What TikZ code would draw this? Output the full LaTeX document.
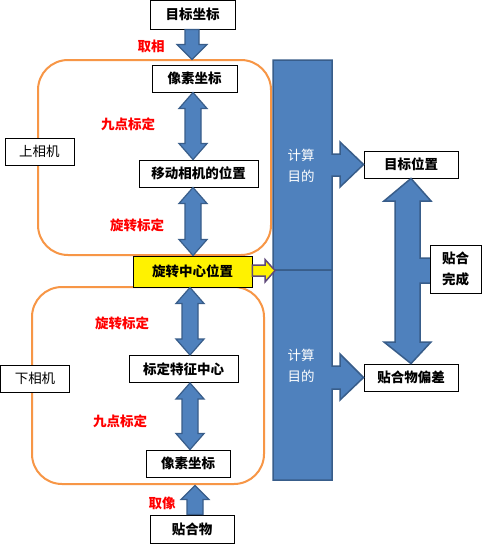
\documentclass[tikz,border=0pt]{standalone}
\usepackage{fontspec}
\newfontfamily\cjk{Noto Sans CJK SC}
\usetikzlibrary{calc}
\definecolor{ablue}{HTML}{4F81BD}
\definecolor{dblue}{HTML}{385D8A}
\definecolor{oframe}{HTML}{F79646}
\definecolor{purp}{HTML}{5F497A}
\tikzset{
 box/.style={draw=black, line width=0.9pt, fill=white, inner sep=0pt, font=\cjk\bfseries\fontsize{13.5}{16}\selectfont},
 cam/.style={box, font=\cjk\fontsize{13.5}{16}\selectfont},
 lbl/.style={text=red, font=\cjk\bfseries\fontsize{13.5}{16}\selectfont, inner sep=0pt},
 wlbl/.style={text=white, align=center, font=\cjk\fontsize{13.5}{21}\selectfont, inner sep=0pt},
 afill/.style={fill=ablue, draw=dblue, line width=1.2pt, line join=miter},
 cfill/.style={fill=ablue, draw=dblue, line width=1.5pt, line join=miter},
 frame/.style={draw=oframe, line width=2pt, rounded corners=30pt},
}
% double vertical arrow: #1 top tip, #2 bottom tip, #3 shaft half width, #4 head half width, #5 head length
\newcommand{\mydarrow}[5]{%
  \path[afill] let \p1=(#1), \p2=(#2) in
   (\x1,\y1) -- (\x1+#4,\y1-#5) -- (\x1+#3,\y1-#5) -- (\x1+#3,\y2+#5) -- (\x1+#4,\y2+#5) -- (\x1,\y2)
   -- (\x1-#4,\y2+#5) -- (\x1-#3,\y2+#5) -- (\x1-#3,\y1-#5) -- (\x1-#4,\y1-#5) -- cycle;}
% single down arrow: #1 tail (top), #2 tip (bottom)
\newcommand{\mydownarrow}[5]{%
  \path[afill] let \p1=(#1), \p2=(#2) in
   (\x1-#3,\y1) -- (\x1+#3,\y1) -- (\x1+#3,\y2+#5) -- (\x1+#4,\y2+#5) -- (\x1,\y2)
   -- (\x1-#4,\y2+#5) -- (\x1-#3,\y2+#5) -- cycle;}
% single up arrow: #1 tail (bottom), #2 tip (top)
\newcommand{\myuparrow}[5]{%
  \path[afill] let \p1=(#1), \p2=(#2) in
   (\x1-#3,\y1) -- (\x1+#3,\y1) -- (\x1+#3,\y2-#5) -- (\x1+#4,\y2-#5) -- (\x1,\y2)
   -- (\x1-#4,\y2-#5) -- (\x1-#3,\y2-#5) -- cycle;}
\begin{document}
\begin{tikzpicture}[x=1pt,y=-1pt]
\useasboundingbox[fill=white] (0,0) rectangle (482,544);
% frames
\draw[frame] (38,60) rectangle (271,255);
\draw[frame] (32,287) rectangle (264,484);
% columns
\coordinate (colA) at (192,0);
\coordinate (colB) at (193,0);
\coordinate (colC) at (190,0);
\coordinate (colD) at (195,0);
% boxes
\node[box, minimum width=85pt, minimum height=29pt] (tgt) at (192.5,14.5) {目标坐标};
\node[box, minimum width=85pt, minimum height=27pt] (pix1) at (194.5,78.5) {像素坐标};
\node[box, minimum width=119pt, minimum height=27pt] (move) at (198.5,173.5) {移动相机的位置};
\node[box, fill=yellow, minimum width=119pt, minimum height=31pt] (rot) at (192.5,271.5) {旋转中心位置};
\node[box, minimum width=109pt, minimum height=27pt] (feat) at (183.5,369) {标定特征中心};
\node[box, minimum width=84pt, minimum height=27pt] (pix2) at (188,463.5) {像素坐标};
\node[box, minimum width=84pt, minimum height=28pt] (obj) at (192,529) {贴合物};
\node[cam, minimum width=69pt, minimum height=27pt] (upcam) at (39.5,151.5) {上相机};
\node[cam, minimum width=69pt, minimum height=27pt] (dncam) at (35,378.5) {下相机};
\node[box, minimum width=94pt, minimum height=27pt] (tpos) at (411,164.5) {目标位置};
\node[box, minimum width=94pt, minimum height=27pt] (dev) at (411,377.5) {贴合物偏差};
% arrows on the left column
\mydownarrow{tgt.south -| colA}{$(pix1.north -| colA)+(0,-5)$}{7pt}{15pt}{15pt}
\mydarrow{pix1.south -| colB}{move.north -| colB}{8pt}{14pt}{16pt}
\mydarrow{move.south -| colB}{rot.north -| colB}{8pt}{14pt}{16pt}
\mydarrow{rot.south -| colC}{feat.north -| colC}{8pt}{14pt}{16pt}
\mydarrow{feat.south -| colC}{pix2.north -| colC}{8pt}{14pt}{16pt}
\myuparrow{obj.north -| colD}{$(pix2.south -| colD)+(0,8)$}{8pt}{14pt}{14pt}
% labels
\node[lbl] (l1) at (151,46) {取相};
\node[lbl] (l2) at (128,124) {九点标定};
\node[lbl] (l3) at (137,225) {旋转标定};
\node[lbl] (l4) at (122,323) {旋转标定};
\node[lbl] (l5) at (120,421) {九点标定};
\node[lbl] (l6) at (162,503) {取像};
% blue callout bars
\path[cfill] (273,60) -- (332,60) -- (332,154) -- (340,154) -- (340,142) -- (tpos.west) -- (340,187)
  -- (340,176) -- (332,176) -- (332,270) -- (273,270) -- cycle;
\path[cfill] (273,270) -- (332,270) -- (332,366) -- (340,366) -- (340,354) -- (dev.west) -- (340,400)
  -- (340,389) -- (332,389) -- (332,480) -- (273,480) -- cycle;
\node[wlbl] (calc1) at (301,165.5) {计算\\目的};
\node[wlbl] (calc2) at (301,366) {计算\\目的};
% yellow arrow
\path[fill=yellow, draw=purp, line width=1.5pt, line join=miter] (rot.east |- 0,265) -- (265,265) -- (265,259.5)
  -- (275,270.5) -- (265,282) -- (265,276) -- (rot.east |- 0,276) -- cycle;
% right double arrow callout
\path[cfill] (tpos.south) -- (431,201) -- (420,201) -- (420,258) -- (431,258) -- (431,283) -- (420,283)
  -- (420,342) -- (431,342) -- (dev.north) -- (384,342) -- (395,342) -- (395,201) -- (384,201) -- cycle;
\node[box, minimum width=51pt, minimum height=48pt, align=center, font=\cjk\bfseries\fontsize{13.5}{21}\selectfont] (done) at (455.5,269) {贴合\\完成};
\end{tikzpicture}
\end{document}
